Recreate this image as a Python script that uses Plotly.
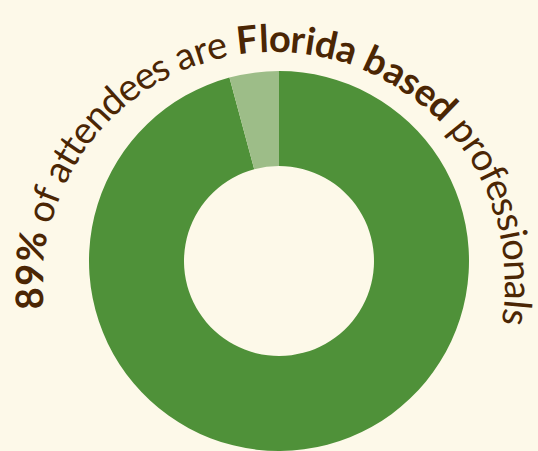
import math
import plotly.graph_objects as go

# ---- data ----
labels = ["Florida based", "Outside Florida"]
values = [95.8, 4.2]
slice_colors = ["#4f9139", "#9dbd88"]

title_parts = [("89%", True), (" of attendees are ", False), ("Florida based", True), (" professionals", False)]

W, H = 538, 451
BG = "#fdf9e9"
TXT = "#4b2604"

# approximate advance widths (em) for layout along the arc
REG = {'a': .49, 'b': .55, 'd': .55, 'e': .52, 'f': .32, 'i': .24, 'l': .24, 'n': .55,
       'o': .55, 'p': .55, 'r': .36, 's': .42, 't': .34, ' ': .26}
BOLD = {'8': .60, '9': .60, '%': .86, 'F': .57, 'l': .26, 'o': .57, 'r': .39, 'i': .26,
        'd': .58, 'a': .52, 'b': .58, 's': .43, 'e': .54, ' ': .26}

chars = []
for text, bold in title_parts:
    for ch in text:
        w = (BOLD if bold else REG).get(ch, .5)
        chars.append((ch, bold, w))

total = sum(c[2] for c in chars)

# arc geometry (pixels, y down)
cx, cy = 274, 283
r_mid = 246
theta0 = math.radians(186.3)   # start (left, slightly below horizontal)
theta1 = math.radians(-10.1)   # end (right, below horizontal)
span = theta0 - theta1
fs = 38

annotations = []
cum = 0.0
for ch, bold, w in chars:
    frac = (cum + w / 2) / total
    cum += w
    if ch == " ":
        continue
    th = theta0 - frac * span
    px = cx + r_mid * math.cos(th)
    py = cy - r_mid * math.sin(th)
    annotations.append(dict(
        x=px / W, y=1 - py / H, xref="paper", yref="paper",
        text=ch, showarrow=False, xanchor="center", yanchor="middle",
        textangle=90 - math.degrees(th),
        font=dict(family="Lato", size=fs, color=TXT,
                  weight="bold" if bold else "normal"),
    ))

# donut placement: center (279, 261), radius 190
pcx, pcy, R = 279, 261, 190
dom_x = [(pcx - R) / W, (pcx + R) / W]
dom_y = [1 - (pcy + R) / H, 1 - (pcy - R) / H]

fig = go.Figure(go.Pie(
    labels=labels, values=values, hole=0.5, sort=False,
    direction="clockwise", rotation=0,
    marker=dict(colors=slice_colors, line=dict(width=0)),
    textinfo="none", hoverinfo="label+percent",
    domain=dict(x=dom_x, y=[max(0, dom_y[0]), min(1, dom_y[1])]),
))

fig.update_layout(
    width=W, height=H, margin=dict(l=0, r=0, t=0, b=0),
    paper_bgcolor=BG, plot_bgcolor=BG, showlegend=False,
    annotations=annotations,
)

fig.write_html("out.html")
